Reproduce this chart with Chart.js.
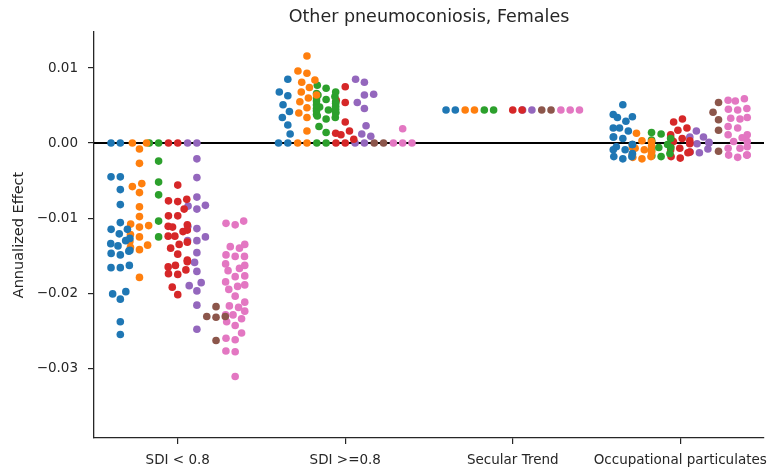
<!DOCTYPE html>
<html>
<head>
<meta charset="utf-8">
<script src="https://cdn.jsdelivr.net/npm/chart.js@4.4.1/dist/chart.umd.min.js"></script>
<style>
  html, body { margin: 0; padding: 0; background: #fff; }
</style>
</head>
<body>
<canvas id="chart" width="775" height="474"></canvas>
<script>
const categories = ['SDI < 0.8', 'SDI >=0.8', 'Secular Trend', 'Occupational particulates'];
const yTicks = [0.01, 0, -0.01, -0.02, -0.03];
const hueColors = ['#1f77b4', '#ff7f0e', '#2ca02c', '#d62728', '#9467bd', '#8c564b', '#e377c2'];

// one list per category for every hue
const blueVals = [
  [0, 0, -0.0045, -0.0045, -0.0062, -0.0082, -0.0106, -0.0115, -0.0115, -0.0121, -0.0127, -0.013, -0.0134, -0.0137,
   -0.0143, -0.0144, -0.0147, -0.0149, -0.0163, -0.0166, -0.0166, -0.0198, -0.0201, -0.0208, -0.0238, -0.0255],
  [0, 0, 0.0012, 0.0024, 0.0034, 0.0042, 0.0051, 0.0063, 0.0068, 0.0085],
  [0.0044, 0.0044],
  [0.0051, 0.0038, 0.0035, 0.0034, 0.0029, 0.002, 0.002, 0.0016, 0.0008, 0.0008, 0.0006, -0.0002, -0.0002,
   -0.0005, -0.0009, -0.0009, -0.0014, -0.0018, -0.0018, -0.0021]
];
const orangeVals = [
  [0, 0, -0.0008, -0.0027, -0.0054, -0.0058, -0.0066, -0.0085, -0.0098, -0.0108, -0.011, -0.0112, -0.0122,
   -0.0125, -0.0131, -0.0136, -0.0139, -0.0142, -0.0179],
  [0, 0, 0.0016, 0.0034, 0.004, 0.0047, 0.0055, 0.006, 0.0064, 0.0068, 0.0074, 0.0081, 0.0084, 0.0093, 0.0096, 0.0116],
  [0.0044, 0.0044],
  [0.0013, 0.0003, 0.0002, -0.0002, -0.0004, -0.0006, -0.0007, -0.0009, -0.0011, -0.0013, -0.0015, -0.0018,
   -0.0019, -0.0021]
];
const greenVals = [
  [0, 0, -0.0024, -0.0052, -0.0069, -0.0104, -0.0125],
  [0, 0, 0.0014, 0.0022, 0.0032, 0.0034, 0.0036, 0.0038, 0.004, 0.0041, 0.0043, 0.0044, 0.0045, 0.0046, 0.0048,
   0.0049, 0.0051, 0.0053, 0.0055, 0.0056, 0.0058, 0.006, 0.0062, 0.0064, 0.0066, 0.0068, 0.0073, 0.0077],
  [0.0044, 0.0044],
  [0.0014, 0.0012, 0.0006, 0.0004, 0.0002, -0.0002, -0.0006, -0.0006, -0.001, -0.0014, -0.0017, -0.0018]
];
const redVals = [
  [0, 0, -0.0056, -0.0075, -0.0077, -0.0078, -0.0088, -0.0097, -0.0097, -0.0109, -0.0111, -0.0112, -0.0116,
   -0.0118, -0.0124, -0.0124, -0.0132, -0.0135, -0.014, -0.0148, -0.0156, -0.0158, -0.0163, -0.0165, -0.0169,
   -0.0174, -0.0175, -0.0192, -0.0202],
  [0, 0, 0.0005, 0.0011, 0.0013, 0.0016, 0.0028, 0.0054, 0.0057, 0.0075],
  [0.0044, 0.0044],
  [0.0032, 0.0028, 0.002, 0.0017, 0.0011, 0.0007, 0.0006, 0.0003, 0.0002, -0.0001, -0.0005, -0.0007, -0.0009,
   -0.0012, -0.0013, -0.0018, -0.002]
];
const purpleVals = [
  [0, 0, -0.0021, -0.0046, -0.0072, -0.0083, -0.0084, -0.0088, -0.0111, -0.0114, -0.0125, -0.013, -0.013,
   -0.0146, -0.0159, -0.0171, -0.0186, -0.019, -0.0197, -0.0216, -0.0248],
  [0, 0, 0.0009, 0.0012, 0.0023, 0.0046, 0.0054, 0.0064, 0.0065, 0.0081, 0.0085],
  [0.0044, 0.0044],
  [0.0016, 0.0008, 0.0008, 0.0001, 0, 0, 0, -0.0001, -0.0008, -0.0012, -0.0013]
];
const brownVals = [
  [-0.0218, -0.0231, -0.0231, -0.0232, -0.0263],
  [0, 0],
  [0.0044, 0.0044],
  [0.0054, 0.0041, 0.0031, 0.0017, -0.0011]
];
const pinkVals = [
  [-0.0104, -0.0107, -0.0109, -0.0135, -0.0138, -0.014, -0.0149, -0.0151, -0.0151, -0.0161, -0.0163, -0.0167,
   -0.017, -0.0177, -0.0178, -0.0185, -0.0189, -0.0191, -0.0195, -0.0204, -0.0212, -0.0217, -0.0219, -0.0224,
   -0.0229, -0.0229, -0.0234, -0.0238, -0.0243, -0.0253, -0.026, -0.0262, -0.0277, -0.0278, -0.0311],
  [0, 0, 0, 0.0019],
  [0.0044, 0.0044, 0.0044],
  [0.0059, 0.0057, 0.0056, 0.0046, 0.0045, 0.0044, 0.0034, 0.0033, 0.0032, 0.0022, 0.002, 0.0011, 0.0011,
   0.0007, 0.0002, 0.0002, -0.0005, -0.0007, -0.0007, -0.0016, -0.0016, -0.0016, -0.0019]
];
const zeroLine = [{ x: -0.5, y: 0 }, { x: 3.5, y: 0 }];

const hueVals = [blueVals, orangeVals, greenVals, redVals, purpleVals, brownVals, pinkVals];
const nHue = hueVals.length;
const dodgeWidth = 0.8;
const hueWidth = dodgeWidth / nHue;
const textColor = '#262626';
const font = 'DejaVu Sans';

function hueCenter(cat, h) {
  return cat - dodgeWidth / 2 + hueWidth * (h + 0.5);
}

const datasets = hueVals.map((vals, h) => ({
  type: 'scatter',
  data: vals.flatMap((list, cat) => list.map(v => ({ x: hueCenter(cat, h), y: v }))),
  backgroundColor: hueColors[h],
  borderWidth: 0,
  pointRadius: 3.8,
  pointHoverRadius: 3.8,
  order: 1
}));
datasets.push({
  type: 'line',
  data: zeroLine,
  borderColor: '#000',
  borderWidth: 2,
  pointRadius: 0,
  order: 10
});

const titlePlugin = {
  id: 'axTitle',
  afterDraw(chart) {
    const { ctx, chartArea } = chart;
    ctx.save();
    ctx.fillStyle = textColor;
    ctx.font = '17.5px "' + font + '"';
    ctx.textAlign = 'center';
    ctx.textBaseline = 'middle';
    ctx.fillText('Other pneumoconiosis, Females', (chartArea.left + chartArea.right) / 2, 17);
    ctx.restore();
  }
};

const chart = new Chart(document.getElementById('chart'), {
  data: { datasets },
  plugins: [titlePlugin],
  options: {
    responsive: false,
    animation: false,
    events: [],
    layout: { padding: { top: 32, right: 11, left: 0, bottom: 0 } },
    plugins: { legend: { display: false }, tooltip: { enabled: false } },
    scales: {
      x: {
        type: 'linear',
        min: -0.5,
        max: 3.5,
        afterBuildTicks: s => { s.ticks = categories.map((c, i) => ({ value: i })); },
        afterFit: s => { s.height = 36; s.paddingLeft = 0; s.paddingRight = 0; },
        ticks: {
          autoSkip: false, maxRotation: 0, padding: 8,
          color: textColor, font: { family: font, size: 13.5 },
          callback: v => categories[v]
        },
        grid: { drawOnChartArea: false, drawTicks: true, tickLength: 6, color: textColor, lineWidth: 1.2 },
        border: { color: textColor, width: 1.3 }
      },
      y: {
        type: 'linear',
        min: -0.0393,
        max: 0.0148,
        afterBuildTicks: s => { s.ticks = yTicks.map(v => ({ value: v })); },
        afterFit: s => { s.width = 94; },
        ticks: {
          padding: 10,
          color: textColor, font: { family: font, size: 13.5 },
          callback: v => (v < 0 ? '\u2212' : '') + Math.abs(v).toFixed(2)
        },
        grid: { drawOnChartArea: false, drawTicks: true, tickLength: 6, color: textColor, lineWidth: 1.2 },
        border: { color: textColor, width: 1.3 },
        title: {
          display: true, text: 'Annualized Effect',
          color: textColor, font: { family: font, size: 14.5 },
          padding: { top: 11, bottom: 0 }
        }
      }
    }
  }
});

// beeswarm placement in pixel space, then clipped to each hue's slot
function swarmOffsets(values, cxPix, yScale, diam, half) {
  const pts = values.map((v, i) => ({ i, y: yScale.getPixelForValue(v) }));
  pts.sort((a, b) => b.y - a.y);
  const placed = [];
  const out = new Array(values.length);
  for (const p of pts) {
    const neigh = [];
    for (let k = placed.length - 1; k >= 0; k--) {
      if (Math.abs(placed[k].y - p.y) < diam) neigh.push(placed[k]);
    }
    const cands = [cxPix];
    let leftFirst = true;
    for (const q of neigh) {
      const dy = p.y - q.y;
      const dx = Math.sqrt(Math.max(diam * diam - dy * dy, 0.05));
      if (leftFirst) cands.push(q.x - dx, q.x + dx);
      else cands.push(q.x + dx, q.x - dx);
      leftFirst = !leftFirst;
    }
    const ordered = cands.map((x, k) => ({ x, k }))
      .sort((a, b) => (Math.abs(a.x - cxPix) - Math.abs(b.x - cxPix)) || (a.k - b.k));
    let chosen = ordered[ordered.length - 1].x;
    for (const c of ordered) {
      const ok = neigh.every(q => (q.x - c.x) ** 2 + (q.y - p.y) ** 2 >= diam * diam - 0.01);
      if (ok) { chosen = c.x; break; }
    }
    placed.push({ x: chosen, y: p.y });
    out[p.i] = Math.max(cxPix - half, Math.min(cxPix + half, chosen));
  }
  return out;
}

const xs = chart.scales.x;
const ys = chart.scales.y;
const halfSlot = (xs.getPixelForValue(hueWidth) - xs.getPixelForValue(0)) / 2;
hueVals.forEach((vals, h) => {
  const pts = [];
  vals.forEach((list, cat) => {
    const cx = xs.getPixelForValue(hueCenter(cat, h));
    const xp = swarmOffsets(list, cx, ys, 9.3, halfSlot);
    list.forEach((v, j) => pts.push({ x: xs.getValueForPixel(xp[j]), y: v }));
  });
  chart.data.datasets[h].data = pts;
});
chart.update('none');
</script>
</body>
</html>
